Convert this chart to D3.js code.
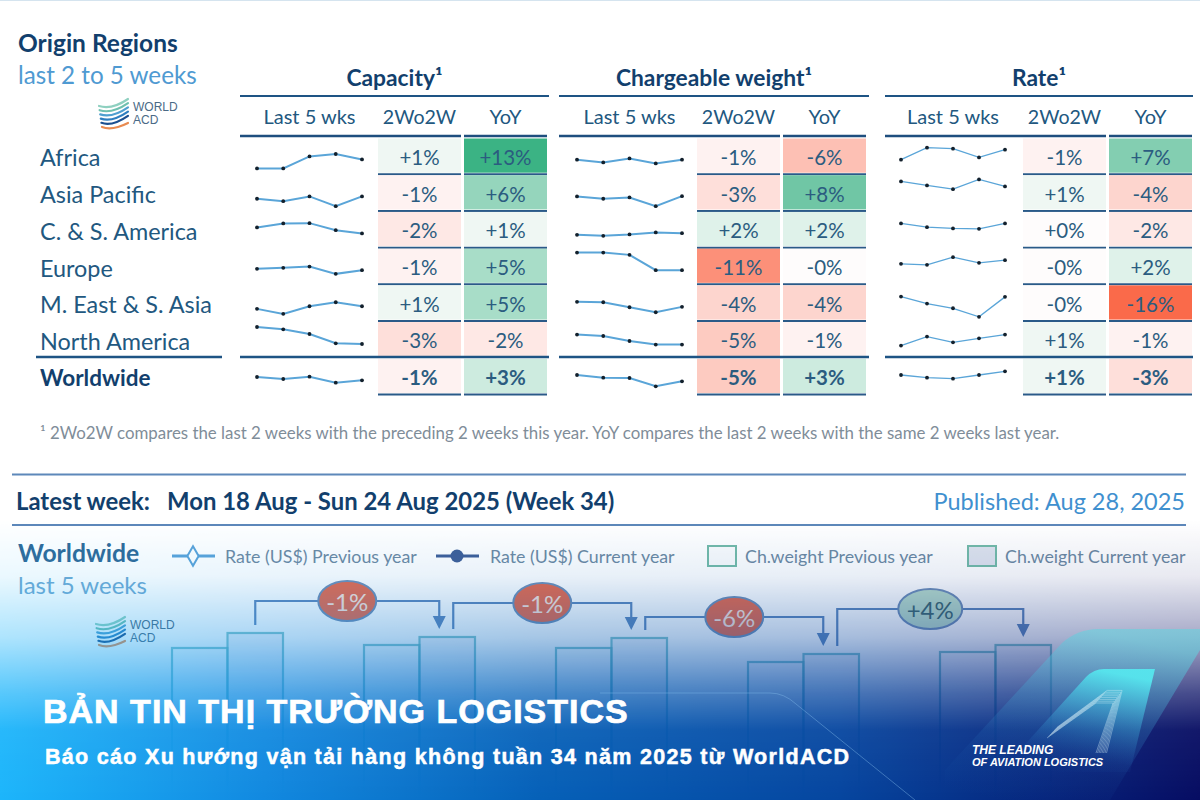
<!DOCTYPE html>
<html>
<head>
<meta charset="utf-8">
<script src="https://cdn.jsdelivr.net/npm/d3@7"></script>
<style>
  html, body { margin: 0; padding: 0; background: #fff; }
  svg { display: block; }
  text { font-family: Lato, sans-serif; }
</style>
</head>
<body>
<div id="chart"></div>
<script>
// table data
const regions = ["Africa", "Asia Pacific", "C. & S. America", "Europe", "M. East & S. Asia", "North America", "Worldwide"];
const subHeaders = ["Last 5 wks", "2Wo2W", "YoY"];

const capacityTrend = [
  [5.3, 5.3, 17.3, 19.7, 14.3],
  [11.7, 9.3, 14, 4.3, 14],
  [19.7, 23.7, 24, 17, 13.7],
  [15, 16, 17.3, 10, 13.7],
  [11.7, 6.7, 14.3, 18.3, 14.3],
  [30.3, 28, 23.3, 14, 13.3],
  [17, 15, 17.3, 11.3, 13.7]
];
const weightTrend = [
  [14, 11.3, 15.3, 10.3, 14],
  [14, 11.7, 13, 4.3, 14.3],
  [12.3, 11.3, 12.7, 14.7, 14],
  [31.3, 31.3, 29, 13.7, 13.7],
  [18.7, 18.3, 13.3, 8.3, 13.7],
  [22.7, 21.3, 16.3, 12.7, 12.7],
  [19, 16.3, 16, 7.7, 12.7]
];
const rateTrend = [
  [14, 26, 25, 16.3, 24],
  [29, 25, 21.3, 31, 24],
  [23.7, 20, 18.7, 18.3, 23.7],
  [20, 19, 26.7, 21, 23.7],
  [24, 17, 12.3, 3.7, 23.7],
  [11.7, 20.7, 15, 19, 22.7],
  [19, 16.3, 15.3, 19, 22.7]
];

const capacity2w = ["+1%", "-1%", "-2%", "-1%", "+1%", "-3%", "-1%"];
const capacityYoy = ["+13%", "+6%", "+1%", "+5%", "+5%", "-2%", "+3%"];
const weight2w = ["-1%", "-3%", "+2%", "-11%", "-4%", "-5%", "-5%"];
const weightYoy = ["-6%", "+8%", "+2%", "-0%", "-4%", "-1%", "+3%"];
const rate2w = ["-1%", "+1%", "+0%", "-0%", "-0%", "+1%", "+1%"];
const rateYoy = ["+7%", "-4%", "-2%", "+2%", "-16%", "-1%", "-3%"];

const blocks = [
  { title: "Capacity¹", left: 240, right: 549, trend: capacityTrend, w2: capacity2w, yoy: capacityYoy, spark: [257, 362], weight: 2 },
  { title: "Chargeable weight¹", left: 559, right: 869, trend: weightTrend, w2: weight2w, yoy: weightYoy, spark: [577, 682], weight: 2 },
  { title: "Rate¹", left: 885, right: 1193, trend: rateTrend, w2: rate2w, yoy: rateYoy, spark: [901, 1005], weight: 1.3 }
];

// bottom chart data
const weeks = ["W30", "W31", "W32", "W33", "W34"];
const weightPrevious = [152, 155, 152, 138, 148];
const weightCurrent = [167, 163, 162, 146, 155];
const changeLabels = ["-1%", "-1%", "-6%", "+4%"];
const changeLevels = [199, 197, 183, 191];
const legendLabels = ["Rate (US$) Previous year", "Rate (US$) Current year", "Ch.weight Previous year", "Ch.weight Current year"];

const width = 1200;
const height = 800;
const navy = "#123f6d";
const midBlue = "#22587f";

const svg = d3.select("#chart").append("svg").attr("width", width).attr("height", height);
const defs = svg.append("defs");

// cell colour runs from red through white to green
const cellColor = d3.scaleLinear()
  .domain([-16, -11, -6, -4, -2, 0, 2, 5, 8, 13])
  .range(["#fa6a4a", "#fc9079", "#fdc0b4", "#fdd5ce", "#fee8e5", "#fefcfc", "#dff2ea", "#a8ddc8", "#70c6a5", "#3bb384"])
  .clamp(true);

const rowY = d3.scaleBand().domain(regions).range([137, 394]);
const sparkY = d3.scaleLinear().domain([0, 40]).range([0, -40]);

function addText(parent, x, y, str, size, color, opts = {}) {
  return parent.append("text")
    .attr("x", x).attr("y", y)
    .attr("font-size", size)
    .attr("fill", color)
    .attr("font-weight", opts.bold ? 700 : 400)
    .attr("font-style", opts.italic ? "italic" : null)
    .attr("text-anchor", opts.anchor || "start")
    .attr("dominant-baseline", opts.baseline || null)
    .style("font-family", opts.font || null)
    .style("letter-spacing", opts.spacing || null)
    .text(str);
}

function hline(parent, x1, x2, y, color, w) {
  parent.append("line").attr("x1", x1).attr("x2", x2).attr("y1", y).attr("y2", y)
    .attr("stroke", color).attr("stroke-width", w);
}

function drawLogo(parent, x, y) {
  const g = parent.append("g").attr("transform", `translate(${x},${y})`);
  const arcs = ["#8fd0c0", "#6fc0b0", "#4f9fd0", "#2f7fc0", "#1c4f8f", "#e88a50"];
  arcs.forEach((c, i) => {
    const top = 5 + i * 4.2;
    g.append("path")
      .attr("d", `M${1 + i * 0.6},${top + 2} Q14,${top + 6} 30,${top - 5 - (i === 5 ? -3 : 0)}`)
      .attr("fill", "none").attr("stroke", c).attr("stroke-width", 2.2).attr("stroke-linecap", "round");
  });
  addText(g, 35, 12, "WORLD", 12, "#4a6a86", { font: "Liberation Sans" });
  addText(g, 35, 24.5, "ACD", 12, "#4a6a86", { font: "Liberation Sans" });
}

// page heading
hline(svg, 0, width, 0.5, "#d5e4ef", 1);
addText(svg, 18, 52, "Origin Regions", 24.5, navy, { bold: true });
addText(svg, 18, 84, "last 2 to 5 weeks", 24.2, "#4f9ad2");
drawLogo(svg, 98, 99);

// region names
const rowLabels = svg.append("g");
regions.forEach((name, i) => {
  addText(rowLabels, 40, rowY(name) + rowY.bandwidth() / 2 + 2, name, i === 6 ? 22.5 : 23.4, i === 6 ? navy : midBlue, { bold: i === 6, baseline: "central" });
});
hline(svg, 36, 222, 357, "#1e5484", 2.5);

// the three metric blocks
blocks.forEach(block => {
  const g = svg.append("g");
  const w = block.right - block.left;
  const colA = block.left + 138;
  const colB = block.left + 224;
  const cellW = 83;

  addText(g, block.left + w / 2, 86, block.title, 22.8, navy, { bold: true, anchor: "middle" });
  hline(g, block.left, block.right, 96, "#1e5484", 2);

  const sparkX = d3.scalePoint().domain(d3.range(5)).range(block.spark);
  addText(g, d3.mean(block.spark), 124, subHeaders[0], 20, midBlue, { anchor: "middle" });
  addText(g, colA + cellW / 2, 124, subHeaders[1], 19.6, midBlue, { anchor: "middle" });
  addText(g, colB + cellW / 2, 124, subHeaders[2], 20, midBlue, { anchor: "middle" });

  hline(g, block.left, colA + cellW, 136, "#1e4e7e", 2.5);
  hline(g, colB, colB + cellW, 136, "#1e4e7e", 2.5);

  regions.forEach((name, i) => {
    const top = rowY(name);
    const bottom = top + rowY.bandwidth();
    const isTotal = i === 6;

    [[colA, block.w2[i]], [colB, block.yoy[i]]].forEach(([x, label]) => {
      g.append("rect")
        .attr("x", x).attr("y", top + 1.5)
        .attr("width", cellW).attr("height", rowY.bandwidth() - 2.5)
        .attr("fill", cellColor(parseFloat(label)));
      addText(g, x + cellW / 2, (top + bottom) / 2 + 1.5, label, 20.5, "#2b5c80", { bold: isTotal, anchor: "middle", baseline: "central" });
      if (i !== 5) hline(g, x, x + cellW, bottom + 0.5, "#2a5a88", 2);
    });

    const line = d3.line().x((d, k) => sparkX(k)).y(d => bottom + sparkY(d));
    g.append("path")
      .attr("d", line(block.trend[i]))
      .attr("fill", "none").attr("stroke", "#5aa5d8").attr("stroke-width", block.weight);
    g.selectAll(null)
      .data(block.trend[i])
      .join("circle")
      .attr("cx", (d, k) => sparkX(k))
      .attr("cy", d => bottom + sparkY(d))
      .attr("r", 1.9)
      .attr("fill", "#13202c");
  });
  hline(g, block.left, block.right, 357, "#1e5484", 2.5);
});

addText(svg, 40, 439, "¹ 2Wo2W compares the last 2 weeks with the preceding 2 weeks this year. YoY compares the last 2 weeks with the same 2 weeks last year.", 16.85, "#7f8d99");

// latest week strip
hline(svg, 12, 1186, 474.5, "#5d88ba", 2);
hline(svg, 12, 1186, 525, "#5d88ba", 2);
addText(svg, 16, 510, "Latest week:", 23.9, navy, { bold: true });
addText(svg, 167, 510, "Mon 18 Aug - Sun 24 Aug 2025 (Week 34)", 23.9, navy, { bold: true });
addText(svg, 1185, 510, "Published: Aug 28, 2025", 23.5, "#3f90cf", { anchor: "end" });

addText(svg, 18, 562, "Worldwide", 24.7, "#2f6a99", { bold: true });
addText(svg, 18, 594, "last 5 weeks", 24, "#6faad4");
drawLogo(svg, 95, 617);

// legend
const legend = svg.append("g");
hline(legend, 172, 215, 556, "#5ba3d9", 3);
legend.append("path").attr("d", d3.symbol(d3.symbolDiamond, 110)())
  .attr("transform", "translate(193,556)").attr("fill", "#fff").attr("stroke", "#5ba3d9").attr("stroke-width", 2);
addText(legend, 225, 563, legendLabels[0], 17.8, "#6d8aa3");
hline(legend, 436, 479, 556, "#3f5f98", 3);
legend.append("circle").attr("cx", 457).attr("cy", 556).attr("r", 6.5).attr("fill", "#3f5f98");
addText(legend, 490, 563, legendLabels[1], 17.8, "#6d8aa3");
legend.append("rect").attr("x", 708).attr("y", 546).attr("width", 28).attr("height", 20)
  .attr("fill", "#fbfcfd").attr("stroke", "#74bba9").attr("stroke-width", 2);
addText(legend, 745, 563, legendLabels[2], 17.8, "#6d8aa3");
legend.append("rect").attr("x", 968).attr("y", 546).attr("width", 28).attr("height", 20)
  .attr("fill", "#dfe4ef").attr("stroke", "#74bba9").attr("stroke-width", 2);
addText(legend, 1005, 563, legendLabels[3], 17.8, "#6d8aa3");

// weight bars and rate connectors
const groupX = d3.scaleBand().domain(weeks).range([172, 1132]).paddingInner(0).paddingOuter(0);
const barW = 55.5;
const barY = d3.scaleLinear().domain([0, 170]).range([800, 630]);
const chart = svg.append("g");

weeks.forEach((wk, i) => {
  const x0 = groupX(wk);
  chart.append("rect").attr("x", x0).attr("y", barY(weightPrevious[i]))
    .attr("width", barW).attr("height", barY(0) - barY(weightPrevious[i]))
    .attr("fill", "#f4f8fb").attr("fill-opacity", 0.3).attr("stroke", "#5db3bb").attr("stroke-opacity", 0.75).attr("stroke-width", 2.2);
  chart.append("rect").attr("x", x0 + barW).attr("y", barY(weightCurrent[i]))
    .attr("width", barW).attr("height", barY(0) - barY(weightCurrent[i]))
    .attr("fill", "#dfe4ef").attr("fill-opacity", 0.4).attr("stroke", "#5db3bb").attr("stroke-opacity", 0.75).attr("stroke-width", 2.2);
});

changeLabels.forEach((label, i) => {
  const from = groupX(weeks[i]) + barW * 1.5 + (i === 0 ? 0 : 6);
  const to = groupX(weeks[i + 1]) + barW * 1.5 - (i === 3 ? 0 : 8);
  const fromY = barY(weightCurrent[i]) - 8;
  const toY = barY(weightCurrent[i + 1]) - 8;
  const level = barY(changeLevels[i]);
  const up = label.startsWith("+");

  chart.append("path")
    .attr("d", `M${from},${fromY} V${level} H${to} V${toY - 10}`)
    .attr("fill", "none").attr("stroke", "#5f88bd").attr("stroke-width", 2.2);
  chart.append("path")
    .attr("d", d3.line()([[to - 6.5, toY - 13], [to + 6.5, toY - 13], [to, toY]]))
    .attr("fill", "#5f88bd");

  const cx = (from + to) / 2;
  chart.append("ellipse").attr("cx", cx).attr("cy", level)
    .attr("rx", up ? 32 : 29).attr("ry", 20)
    .attr("fill", up ? "#b8dccb" : "#e8694c").attr("stroke", "#6f8fb8").attr("stroke-width", 2);
  addText(chart, cx, level, label, 24, up ? "#3f6a70" : "#fbe3da", { anchor: "middle", baseline: "central" });
});

// blue banner fading in over the lower chart
const banner = defs.append("linearGradient").attr("id", "banner");
[[0, "#1cb5fb"], [0.22, "#1189e0"], [0.45, "#0560b8"], [0.7, "#05459f"], [1, "#060c62"]].forEach(([o, c]) => {
  banner.append("stop").attr("offset", o).attr("stop-color", c);
});
const fade = defs.append("linearGradient").attr("id", "fade").attr("x1", 0).attr("x2", 0).attr("y1", 0).attr("y2", 1);
[[0, 0], [0.2, 0.09], [0.42, 0.36], [0.62, 0.74], [0.75, 0.95], [1, 1]].forEach(([o, a]) => {
  fade.append("stop").attr("offset", o).attr("stop-color", "#fff").attr("stop-opacity", a);
});
defs.append("mask").attr("id", "fadeMask").attr("maskUnits", "userSpaceOnUse")
  .attr("x", 0).attr("y", 520).attr("width", width).attr("height", 280)
  .append("rect").attr("x", 0).attr("y", 520).attr("width", width).attr("height", 280).attr("fill", "url(#fade)");
svg.append("rect").attr("x", 0).attr("y", 520).attr("width", width).attr("height", 280)
  .attr("fill", "url(#banner)").attr("mask", "url(#fadeMask)");

// panel edge and airline mark
svg.append("path").attr("d", "M600,693 H770 Q784,693 796,704 L915,800")
  .attr("fill", "none").attr("stroke", "#7fb6e6").attr("stroke-opacity", 0.45);

const tealWide = defs.append("linearGradient").attr("id", "tealWide").attr("x1", 0.55).attr("x2", 0.2).attr("y1", 0).attr("y2", 1);
tealWide.append("stop").attr("offset", 0).attr("stop-color", "#5fd5e0").attr("stop-opacity", 0.55);
tealWide.append("stop").attr("offset", 0.75).attr("stop-color", "#2a7fc8").attr("stop-opacity", 0.08);
tealWide.append("stop").attr("offset", 1).attr("stop-color", "#2a7fc8").attr("stop-opacity", 0);
svg.append("path").attr("d", "M945,770 L1062,643 Q1078,629 1098,629 H1200 V650 L1110,800 H945 Z").attr("fill", "url(#tealWide)");

const tealInner = defs.append("linearGradient").attr("id", "tealInner").attr("x1", 0.6).attr("x2", 0.3).attr("y1", 0).attr("y2", 1);
tealInner.append("stop").attr("offset", 0).attr("stop-color", "#56e6ee").attr("stop-opacity", 0.95);
tealInner.append("stop").attr("offset", 0.8).attr("stop-color", "#2a74c0").attr("stop-opacity", 0.08);
tealInner.append("stop").attr("offset", 1).attr("stop-color", "#2a74c0").attr("stop-opacity", 0);
svg.append("path").attr("d", "M1000,772 L1086,677 Q1094,669 1104,669 H1155 L1130,772 Z").attr("fill", "url(#tealInner)");

const stripes = svg.append("g").attr("fill", "none").attr("stroke", "#dff4fb").attr("stroke-opacity", 0.55).attr("stroke-width", 0.7);
d3.range(8).forEach(i => {
  stripes.append("path").attr("d", `M${1047 + i * 1.4},${738 - i * 1.5} L${1096 + i * 1.6},${703 - i * 1.8} H${1113 + i * 1.3} L${1096 + i * 1.5},${753}`);
});

// banner text, stroked a little since the face runs lighter than the reference
const bannerFont = "Liberation Sans";
addText(svg, 43, 723, "BẢN TIN THỊ TRƯỜNG LOGISTICS", 34, "#fff", { bold: true, font: bannerFont, spacing: "1px" })
  .attr("stroke", "#fff").attr("stroke-width", 0.7);
addText(svg, 45, 764, "Báo cáo Xu hướng vận tải hàng không tuần 34 năm 2025 từ WorldACD", 21.5, "#fff", { bold: true, font: bannerFont, spacing: "1.3px" })
  .attr("stroke", "#fff").attr("stroke-width", 0.5);
addText(svg, 972, 754, "THE LEADING", 12, "#fff", { bold: true, italic: true, font: bannerFont });
addText(svg, 972, 766, "OF AVIATION LOGISTICS", 11, "#fff", { bold: true, italic: true, font: bannerFont });
</script>
</body>
</html>
